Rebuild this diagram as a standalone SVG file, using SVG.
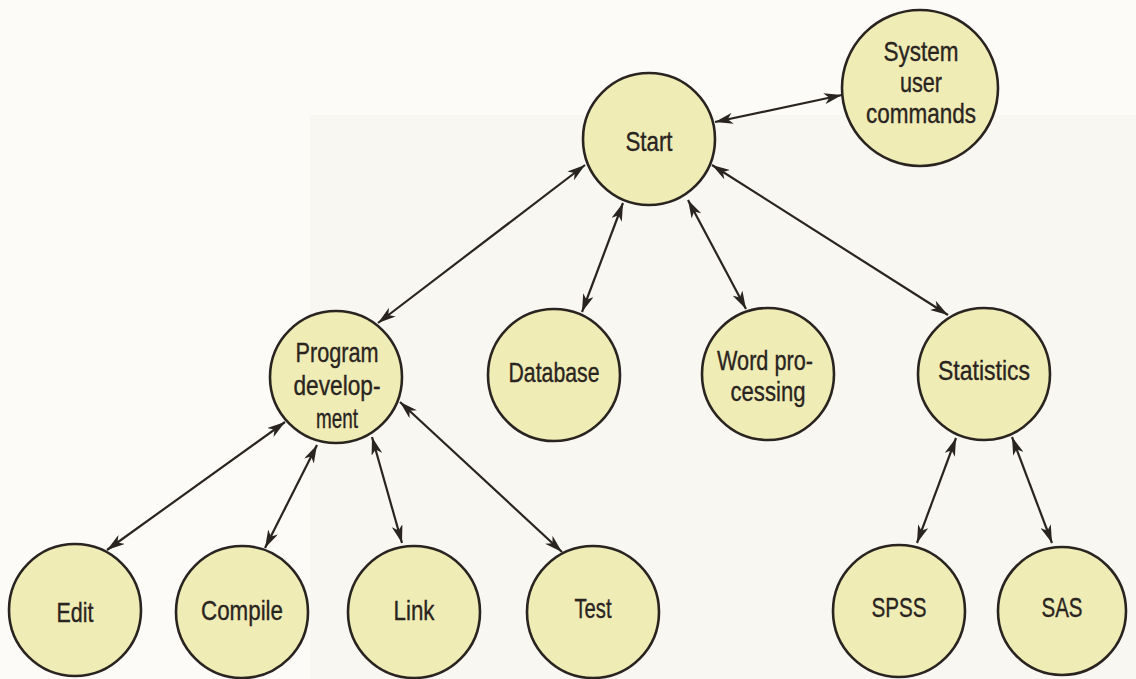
<svg xmlns="http://www.w3.org/2000/svg" width="1136" height="679" viewBox="0 0 1136 679">
<defs>
<style>
.node circle{fill:#efecb6;stroke:#2a2420;stroke-width:2.6}
.node text{font-family:"Liberation Sans",Arial,sans-serif;font-size:28px;fill:#2a2420;stroke:#2a2420;stroke-width:0.35;text-anchor:middle}
.edges line{stroke:#2a2420;stroke-width:2.2;marker-start:url(#ah);marker-end:url(#ah)}
</style>
<marker id="ah" viewBox="0 0 18 11" refX="18" refY="5.5" markerWidth="18" markerHeight="11" markerUnits="userSpaceOnUse" orient="auto-start-reverse">
<path d="M0,0 L18,5.5 L0,11 L5,5.5 z" fill="#2a2420"/>
</marker>
</defs>
<rect x="0" y="0" width="1136" height="679" fill="#fcfbf8"/>
<rect x="310" y="115" width="826" height="564" fill="#f8f7f2"/>
<g class="edges">
<line x1="715" y1="122" x2="842" y2="95"/>
<line x1="585" y1="165" x2="378" y2="323"/>
<line x1="623" y1="203" x2="582" y2="312"/>
<line x1="688" y1="200" x2="746" y2="309"/>
<line x1="712" y1="165" x2="948" y2="315"/>
<line x1="285" y1="422" x2="107" y2="550"/>
<line x1="317" y1="445" x2="265" y2="548"/>
<line x1="372" y1="437" x2="402" y2="543"/>
<line x1="400" y1="402" x2="562" y2="552"/>
<line x1="956" y1="438" x2="917" y2="543"/>
<line x1="1012" y1="437" x2="1052" y2="543"/>
</g>
<g id="start" class="node"><circle cx="649" cy="139" r="66"/><text x="649" y="151" textLength="47" lengthAdjust="spacingAndGlyphs">Start</text></g>
<g id="system-user-commands" class="node"><circle cx="920" cy="88" r="78"/><text x="921" y="61" textLength="75" lengthAdjust="spacingAndGlyphs">System</text><text x="921" y="92" textLength="42" lengthAdjust="spacingAndGlyphs">user</text><text x="921" y="123" textLength="110" lengthAdjust="spacingAndGlyphs">commands</text></g>
<g id="program-development" class="node"><circle cx="336" cy="377" r="66"/><text x="337" y="362" textLength="83" lengthAdjust="spacingAndGlyphs">Program</text><text x="337" y="395" textLength="87" lengthAdjust="spacingAndGlyphs">develop-</text><text x="337" y="428" textLength="42" lengthAdjust="spacingAndGlyphs">ment</text></g>
<g id="database" class="node"><circle cx="554" cy="375" r="66"/><text x="554" y="382" textLength="91" lengthAdjust="spacingAndGlyphs">Database</text></g>
<g id="word-processing" class="node"><circle cx="768" cy="374" r="66"/><text x="765" y="370" textLength="96" lengthAdjust="spacingAndGlyphs">Word pro-</text><text x="768" y="401" textLength="75" lengthAdjust="spacingAndGlyphs">cessing</text></g>
<g id="statistics" class="node"><circle cx="984" cy="374" r="66"/><text x="984" y="380" textLength="92" lengthAdjust="spacingAndGlyphs">Statistics</text></g>
<g id="edit" class="node"><circle cx="75" cy="610" r="66"/><text x="75" y="622" textLength="37" lengthAdjust="spacingAndGlyphs">Edit</text></g>
<g id="compile" class="node"><circle cx="242" cy="612" r="66"/><text x="242" y="620" textLength="82" lengthAdjust="spacingAndGlyphs">Compile</text></g>
<g id="link" class="node"><circle cx="414" cy="612" r="66"/><text x="414" y="620" textLength="41" lengthAdjust="spacingAndGlyphs">Link</text></g>
<g id="test" class="node"><circle cx="593" cy="612" r="66"/><text x="593" y="618" textLength="37" lengthAdjust="spacingAndGlyphs">Test</text></g>
<g id="spss" class="node"><circle cx="899" cy="611" r="66"/><text x="899" y="617" textLength="55" lengthAdjust="spacingAndGlyphs">SPSS</text></g>
<g id="sas" class="node"><circle cx="1062" cy="611" r="64"/><text x="1062" y="617" textLength="41" lengthAdjust="spacingAndGlyphs">SAS</text></g>
</svg>
